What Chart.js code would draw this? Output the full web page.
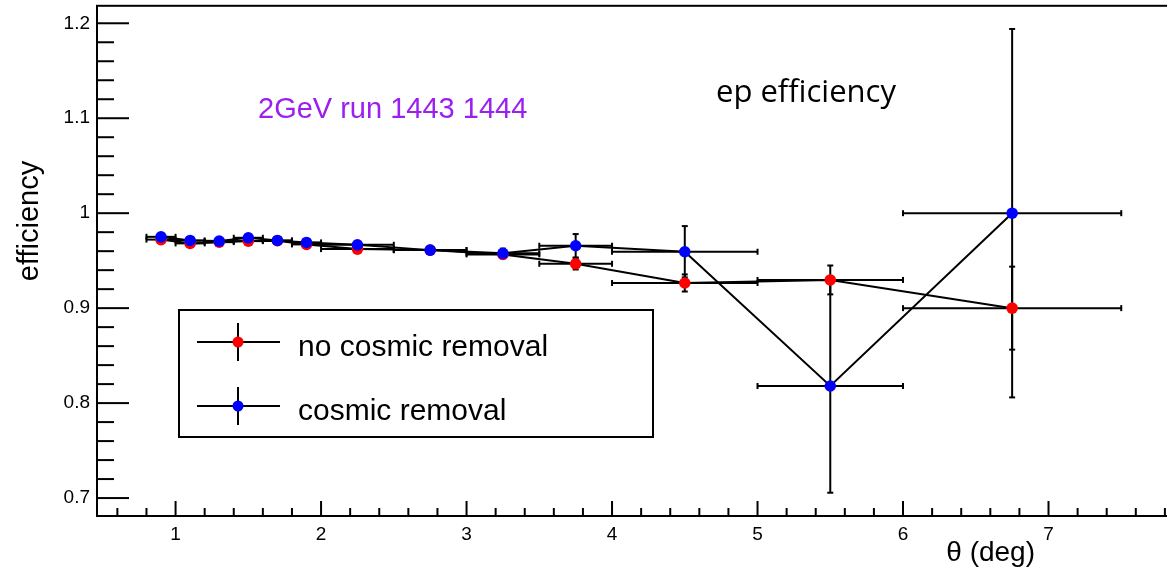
<!DOCTYPE html>
<html>
<head>
<meta charset="utf-8">
<title>ep efficiency</title>
<script src="https://cdn.jsdelivr.net/npm/chart.js"></script>
<style>
  html, body { margin: 0; padding: 0; background: #fff; overflow: hidden; }
</style>
</head>
<body>
<canvas id="myChart" width="1210" height="572"></canvas>
<script>
// theta bin centres and half widths (deg)
var thetaBins = [0.9, 1.1, 1.3, 1.5, 1.7, 1.9, 2.25, 2.75, 3.25, 3.75, 4.5, 5.5, 6.75];
var thetaErr  = [0.1, 0.1, 0.1, 0.1, 0.1, 0.1, 0.25, 0.25, 0.25, 0.25, 0.5, 0.5, 0.75];

// no cosmic removal (red)
var effNoCosmic    = [0.9722, 0.9682, 0.9695, 0.9706, 0.9710, 0.9671, 0.9622, 0.9611, 0.9566, 0.9467, 0.9265, 0.9297, 0.9000];
var effNoCosmicErr = [0.002, 0.002, 0.002, 0.002, 0.002, 0.002, 0.002, 0.002, 0.004, 0.006, 0.009, 0.0152, 0.0437];

// cosmic removal (blue)
var effCosmic    = [0.9751, 0.9713, 0.9706, 0.9741, 0.9713, 0.9692, 0.9667, 0.9611, 0.9577, 0.9657, 0.9594, 0.8180, 1.0000];
var effCosmicErr = [0.002, 0.002, 0.002, 0.002, 0.002, 0.002, 0.002, 0.002, 0.005, 0.0123, 0.027, 0.1124, 0.194];

var xTicks = [1, 2, 3, 4, 5, 6, 7];
var yTicks = [0.7, 0.8, 0.9, 1.0, 1.1, 1.2];
var yTickLabels = ['0.7', '0.8', '0.9', '1', '1.1', '1.2'];

var labelFont = '"Liberation Sans", Arial, sans-serif';

function toPoints(xs, ys) {
    return xs.map(function (x, i) { return { x: x, y: ys[i] }; });
}

var errorSets = [
    { y: effNoCosmic, ey: effNoCosmicErr },
    { y: effCosmic, ey: effCosmicErr }
];

function line(ctx, x1, y1, x2, y2) {
    ctx.beginPath();
    ctx.moveTo(x1, y1);
    ctx.lineTo(x2, y2);
    ctx.stroke();
}

var rootStyle = {
    id: 'rootStyle',
    beforeDatasetsDraw: function (chart) {
        var ctx = chart.ctx, xs = chart.scales.x, ys = chart.scales.y;
        ctx.save();
        ctx.strokeStyle = '#000';
        ctx.lineWidth = 2;
        errorSets.forEach(function (set) {
            thetaBins.forEach(function (t, i) {
                var px = xs.getPixelForValue(t);
                var py = ys.getPixelForValue(set.y[i]);
                var x1 = xs.getPixelForValue(t - thetaErr[i]);
                var x2 = xs.getPixelForValue(t + thetaErr[i]);
                var y1 = ys.getPixelForValue(set.y[i] + set.ey[i]);
                var y2 = ys.getPixelForValue(set.y[i] - set.ey[i]);
                line(ctx, x1, py, x2, py);
                line(ctx, x1, py - 3, x1, py + 3);
                line(ctx, x2, py - 3, x2, py + 3);
                line(ctx, px, y1, px, y2);
                line(ctx, px - 3, y1, px + 3, y1);
                line(ctx, px - 3, y2, px + 3, y2);
            });
        });
        ctx.restore();
    },
    afterDraw: function (chart) {
        var ctx = chart.ctx, xs = chart.scales.x, ys = chart.scales.y;
        var a = chart.chartArea;
        ctx.save();
        ctx.strokeStyle = '#000';
        ctx.lineWidth = 2;
        // frame
        ctx.strokeRect(a.left, a.top, a.right - a.left, a.bottom - a.top);

        // x ticks
        var v, p, k;
        for (k = 3; k <= 40; k++) {
            v = k * 0.2;
            if (v < xs.min || v > xs.max) continue;
            p = xs.getPixelForValue(v);
            var major = Math.abs(v - Math.round(v)) < 1e-6;
            line(ctx, p, a.bottom, p, a.bottom - (major ? 15 : 8));
        }
        // y ticks
        for (k = 35; k <= 60; k++) {
            v = k * 0.02;
            if (v < ys.min || v > ys.max) continue;
            p = ys.getPixelForValue(v);
            var majorY = k % 5 === 0;
            line(ctx, a.left, p, a.left + (majorY ? 32 : 17), p);
        }

        // axis titles
        ctx.fillStyle = '#000';
        ctx.font = '28px ' + labelFont;
        ctx.textAlign = 'right';
        ctx.textBaseline = 'alphabetic';
        ctx.fillText('\u03B8 (deg)', 1035, 561);

        ctx.save();
        ctx.translate(30, 221);
        ctx.rotate(-Math.PI / 2);
        ctx.textAlign = 'center';
        ctx.textBaseline = 'middle';
        ctx.font = '29px ' + labelFont;
        ctx.fillText('efficiency', 0, 0);
        ctx.restore();

        // annotations
        ctx.textAlign = 'left';
        ctx.textBaseline = 'alphabetic';
        ctx.fillStyle = '#9b1ff0';
        ctx.font = '29px ' + labelFont;
        ctx.fillText('2GeV run 1443 1444', 258, 118);

        ctx.fillStyle = '#000';
        ctx.font = '31px "Open Sans", "Noto Sans", sans-serif';
        ctx.fillText('ep efficiency', 716, 102);

        // legend
        ctx.fillStyle = '#fff';
        ctx.fillRect(179, 310, 474, 127);
        ctx.strokeRect(179, 310, 474, 127);
        var entries = [
            { label: 'no cosmic removal', color: '#ff0000', y: 342 },
            { label: 'cosmic removal', color: '#0000ff', y: 406 }
        ];
        entries.forEach(function (e) {
            line(ctx, 197, e.y, 280, e.y);
            line(ctx, 238, e.y - 19, 238, e.y + 19);
            ctx.fillStyle = e.color;
            ctx.beginPath();
            ctx.arc(238, e.y, 5.5, 0, Math.PI * 2);
            ctx.fill();
            ctx.fillStyle = '#000';
            ctx.font = '30px ' + labelFont;
            ctx.fillText(e.label, 298, e.y + 13.5);
        });
        ctx.restore();
    }
};

var ctx = document.getElementById('myChart').getContext('2d');
var myChart = new Chart(ctx, {
    type: 'scatter',
    data: {
        datasets: [{
            label: 'no cosmic removal',
            data: toPoints(thetaBins, effNoCosmic),
            showLine: true,
            borderColor: '#000',
            borderWidth: 2,
            backgroundColor: '#ff0000',
            pointBackgroundColor: '#ff0000',
            pointBorderColor: '#ff0000',
            pointBorderWidth: 0,
            pointRadius: 5.8,
            tension: 0,
            order: 2
        }, {
            label: 'cosmic removal',
            data: toPoints(thetaBins, effCosmic),
            showLine: true,
            borderColor: '#000',
            borderWidth: 2,
            backgroundColor: '#0000ff',
            pointBackgroundColor: '#0000ff',
            pointBorderColor: '#0000ff',
            pointBorderWidth: 0,
            pointRadius: 5.8,
            tension: 0,
            order: 1
        }]
    },
    options: {
        responsive: false,
        animation: false,
        layout: { padding: { top: 4, right: 16, left: 0, bottom: 0 } },
        plugins: {
            legend: { display: false },
            tooltip: { enabled: false }
        },
        scales: {
            x: {
                type: 'linear',
                min: 0.46,
                max: 8.0,
                grid: { display: false, drawTicks: false },
                border: { display: false },
                afterBuildTicks: function (scale) {
                    scale.ticks = xTicks.map(function (v) { return { value: v }; });
                },
                afterFit: function (scale) {
                    scale.height = 56;
                    scale.paddingLeft = 0;
                    scale.paddingRight = 0;
                },
                ticks: {
                    padding: 7,
                    maxRotation: 0,
                    color: '#000',
                    font: { family: labelFont, size: 19 },
                    callback: function (v) { return String(v); }
                }
            },
            y: {
                type: 'linear',
                min: 0.6811,
                max: 1.2184,
                grid: { display: false, drawTicks: false },
                border: { display: false },
                afterBuildTicks: function (scale) {
                    scale.ticks = yTicks.map(function (v) { return { value: v }; });
                },
                afterFit: function (scale) {
                    scale.width = 97;
                    scale.paddingTop = 0;
                    scale.paddingBottom = 0;
                },
                ticks: {
                    padding: 7,
                    color: '#000',
                    font: { family: labelFont, size: 19 },
                    callback: function (v, i) { return yTickLabels[i]; }
                }
            }
        }
    },
    plugins: [rootStyle]
});
</script>
</body>
</html>
